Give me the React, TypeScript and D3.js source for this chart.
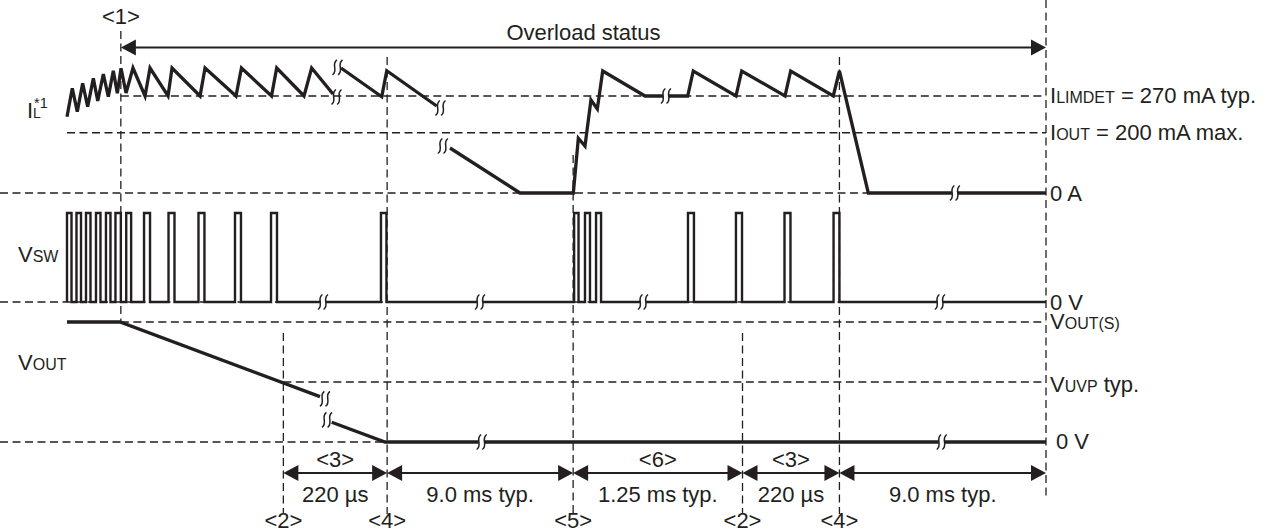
import React, { useEffect, useRef } from 'react';
import * as d3 from 'd3';

const WIDTH = 1272;
const HEIGHT = 529;
const INK = '#231f20';
const FONT = '"Liberation Sans", Arial, Helvetica, sans-serif';
const FS = 22;
const FS_SMALL = 16;

// schematic time axis: 0 = first switching pulse, 1000 = end of the overload window
const T_END = 1000;
const EVENT_TIMES = [55, 221, 327, 517, 690, 789];
const EVENT_LABELS = ['<1>', '<2>', '<4>', '<5>', '<2>', '<4>'];

// VSW pulses [rise, fall]
const SW_PULSES: [number, number][] = [
  [0, 4.6], [9.7, 14.3], [19.4, 24], [29.6, 34.2], [39.8, 44.4], [49.5, 55],
  [60.5, 65.5], [78.7, 84.8], [103.7, 109.8], [134.3, 140.4], [171.6, 177.7], [208.4, 214.5],
  [320.7, 326.3],
  [518, 522.5], [529.1, 534.2], [540.4, 545.5], [634.3, 640.4], [683.3, 689.5], [732.9, 739], [783, 789],
];
const SW_BREAKS = [261.5, 421.9, 588.4, 891.7];

// inductor current, arbitrary units (0 = 0 A, 77.6 = ILIMDET, 48.2 = IOUT max)
const IL_SEG_A: [number, number][] = [
  [0, 61], [5.4, 83.8], [10.5, 65], [16, 87.8], [21.1, 69], [26.9, 91.8], [31.4, 73.6],
  [37.1, 95.2], [42.2, 77], [47.3, 97.8], [51.4, 79.8], [55.2, 99.8], [60.3, 80], [67.4, 100],
  [79.7, 77.6], [84.8, 100], [103.2, 77.6], [107.3, 100], [135.9, 77.6], [141, 100],
  [172.6, 77.6], [178.2, 100], [208.9, 77.6], [214.2, 100], [242.1, 77.6], [249.9, 100], [271.7, 79.2],
];
const IL_SEG_B: [number, number][] = [[279.9, 100], [321.5, 77], [326.6, 97.8], [377.6, 69.6]];
const IL_SEG_C: [number, number][] = [
  [391.2, 36], [462.7, 0], [517.2, 0], [522.3, 43.8], [529.1, 37.6], [535.2, 74.4], [541.7, 67.2],
  [547.2, 97.6], [590.4, 77.6], [634, 77.6], [639.7, 97.6], [683.3, 77.6], [689.2, 97.6],
  [733.4, 77.6], [739.2, 97.6], [782.7, 77.6], [789, 97.6], [818.5, 0], [1000, 0],
];
const IL_SQUIGGLES: [number, number][] = [[276.3, 100.5], [275.3, 76.8], [381.5, 68], [384, 37.6]];
const IL_BREAKS: [number, number][] = [[611.8, 77.6], [907, 0]];

// output voltage, 1 = VOUT(S), 0.5 = VUVP
const VOUT_SEG_A: [number, number][] = [[0, 1], [54.1, 1], [258.4, 0.378]];
const VOUT_SEG_B: [number, number][] = [[270.4, 0.164], [324.8, 0], [1000, 0]];
const VOUT_SQUIGGLES: [number, number][] = [[263.5, 0.36], [265.6, 0.185]];
const VOUT_BREAKS = [423.6, 893.5];

// horizontal reference lines
const GUIDE_ROWS = ['il', 'il', 'il', 'sw', 'out', 'out', 'out'];
const GUIDE_VALUES = [77.6, 48.2, 0, 0, 1, 0.5, 0];
const GUIDE_STARTS: (number | null)[] = [55, 0, null, null, 55, 221, null];
const GUIDE_LABELS: [string, string][][] = [
  [['I', 'n'], ['LIMDET', 's'], [' = 270 mA typ.', 'n']],
  [['I', 'n'], ['OUT', 's'], [' = 200 mA max.', 'n']],
  [['0 A', 'n']],
  [['0 V', 'n']],
  [['V', 'n'], ['OUT(S)', 's']],
  [['V', 'n'], ['UVP', 's'], [' typ.', 'n']],
  [['0 V', 'n']],
];

// timing dimensions along the bottom
const SPAN_FROM = [221, 327, 517, 690, 789];
const SPAN_TO = [327, 517, 690, 789, 1000];
const SPAN_TOP = ['<3>', '', '<6>', '<3>', ''];
const SPAN_TEXT = ['220 \u00b5s', '9.0 ms typ.', '1.25 ms typ.', '220 \u00b5s', '9.0 ms typ.'];

const App: React.FC = () => {
  const ref = useRef<SVGSVGElement>(null);

  useEffect(() => {
    const svg = d3.select(ref.current);
    svg.selectAll('*').remove();

    const x = d3.scaleLinear().domain([0, T_END]).range([67, 1046]);
    const yIL = d3.scaleLinear().domain([0, 100]).range([193, 68]);
    const ySW = d3.scaleLinear().domain([0, 1]).range([302, 213]);
    const yOUT = d3.scaleLinear().domain([0, 1]).range([442, 322]);
    const rowScale: Record<string, d3.ScaleLinear<number, number>> = { il: yIL, sw: ySW, out: yOUT };

    // dashed guides
    const dashed = svg
      .append('g')
      .attr('stroke', INK)
      .attr('stroke-width', 1.3)
      .attr('stroke-dasharray', '8 4.5')
      .attr('fill', 'none');

    GUIDE_VALUES.forEach((v, i) => {
      const y = rowScale[GUIDE_ROWS[i]](v);
      const s = GUIDE_STARTS[i];
      dashed
        .append('line')
        .attr('x1', s === null ? 0 : x(s))
        .attr('x2', x(T_END))
        .attr('y1', y)
        .attr('y2', y);
    });

    // vertical event lines
    const vTops = [31, 333, 57, 155, 333, 57];
    EVENT_TIMES.forEach((t, i) => {
      dashed
        .append('line')
        .attr('x1', x(t))
        .attr('x2', x(t))
        .attr('y1', vTops[i])
        .attr('y2', i === 0 ? yOUT(1) : 514);
    });
    dashed.append('line').attr('x1', x(T_END)).attr('x2', x(T_END)).attr('y1', 0).attr('y2', 498);

    // waveforms
    const ilLine = d3.line<[number, number]>().x((d) => x(d[0])).y((d) => yIL(d[1]));
    const outLine = d3.line<[number, number]>().x((d) => x(d[0])).y((d) => yOUT(d[1]));

    const swPoints: [number, number][] = [[0, 0]];
    SW_PULSES.forEach(([a, b]) => {
      swPoints.push([a, 0], [a, 1], [b, 1], [b, 0]);
    });
    swPoints.push([T_END, 0]);
    const swLine = d3.line<[number, number]>().x((d) => x(d[0])).y((d) => ySW(d[1]));

    const waves = svg.append('g').attr('fill', 'none').attr('stroke', INK).attr('stroke-linejoin', 'miter');
    [IL_SEG_A, IL_SEG_B, IL_SEG_C].forEach((seg) => {
      waves.append('path').attr('d', ilLine(seg)).attr('stroke-width', 3.3);
    });
    waves.append('path').attr('d', swLine(swPoints)).attr('stroke-width', 2.4);
    [VOUT_SEG_A, VOUT_SEG_B].forEach((seg) => {
      waves.append('path').attr('d', outLine(seg)).attr('stroke-width', 3.3);
    });

    // break marks
    const squiggle = (cx: number, cy: number) =>
      [-2.8, 2.8]
        .map(
          (dx) =>
            `M${cx + dx + 2.2},${cy - 7.5}C${cx + dx - 4},${cy - 3} ${cx + dx + 4},${cy + 3} ${cx + dx - 2.2},${cy + 7.5}`
        )
        .join('');

    const breaks: [number, number][] = [
      ...IL_BREAKS.map(([t, v]) => [x(t), yIL(v)] as [number, number]),
      ...SW_BREAKS.map((t) => [x(t), ySW(0)] as [number, number]),
      ...VOUT_BREAKS.map((t) => [x(t), yOUT(0)] as [number, number]),
    ];
    const marks = svg.append('g');
    breaks.forEach(([bx, by]) => {
      marks.append('rect').attr('x', bx - 3).attr('y', by - 4).attr('width', 6).attr('height', 8).attr('fill', '#fff');
    });
    const squigglePts: [number, number][] = [
      ...breaks,
      ...IL_SQUIGGLES.map(([t, v]) => [x(t), yIL(v)] as [number, number]),
      ...VOUT_SQUIGGLES.map(([t, v]) => [x(t), yOUT(v)] as [number, number]),
    ];
    squigglePts.forEach(([bx, by]) => {
      marks
        .append('path')
        .attr('d', squiggle(bx, by))
        .attr('fill', 'none')
        .attr('stroke', INK)
        .attr('stroke-width', 1.5);
    });

    // arrows
    const arrowGroup = svg.append('g').attr('fill', INK).attr('stroke', INK);
    const head = (tip: number, y: number, dir: number) =>
      arrowGroup
        .append('path')
        .attr('stroke', 'none')
        .attr('d', `M${tip},${y}L${tip - dir * 15},${y - 8}L${tip - dir * 15},${y + 8}Z`);
    const dimension = (a: number, b: number, y: number, w: number) => {
      arrowGroup.append('line').attr('x1', a + 4).attr('x2', b - 4).attr('y1', y).attr('y2', y).attr('stroke-width', w);
      head(a, y, -1);
      head(b, y, 1);
    };

    dimension(x(EVENT_TIMES[0]), x(T_END), 47.5, 2);

    const text = (tx: number, ty: number, anchor = 'start', size = FS) =>
      svg
        .append('text')
        .attr('x', tx)
        .attr('y', ty)
        .attr('text-anchor', anchor)
        .attr('font-family', FONT)
        .attr('font-size', size)
        .attr('fill', INK);

    text((x(EVENT_TIMES[0]) + x(T_END)) / 2, 40, 'middle').text('Overload status');
    text(x(EVENT_TIMES[0]), 24, 'middle').text(EVENT_LABELS[0]);

    SPAN_FROM.forEach((a, i) => {
      const x0 = x(a);
      const x1 = x(SPAN_TO[i]);
      dimension(x0, x1, 473, 1.8);
      if (SPAN_TOP[i]) text((x0 + x1) / 2, 467, 'middle').text(SPAN_TOP[i]);
      text((x0 + x1) / 2, 502, 'middle').text(SPAN_TEXT[i]);
    });
    EVENT_TIMES.slice(1).forEach((t, i) => {
      text(x(t), 528, 'middle').text(EVENT_LABELS[i + 1]);
    });

    // right-hand level labels
    const labelDx = [4, 4, 4, 4, 4, 4, 10];
    const labelDy = [7, 7, 8, 8, 7, 10, 7];
    GUIDE_LABELS.forEach((parts, i) => {
      const y = rowScale[GUIDE_ROWS[i]](GUIDE_VALUES[i]);
      const t = text(x(T_END) + labelDx[i], y + labelDy[i]);
      parts.forEach(([s, kind]) => {
        t.append('tspan').attr('font-size', kind === 's' ? FS_SMALL : FS).text(s);
      });
    });

    // left-hand signal names
    text(27, 118).text('I');
    text(33, 118, 'start', 14).text('L');
    text(34, 108, 'start', 14.5).text('*1');
    const vsw = text(18, 262);
    vsw.append('tspan').text('V');
    vsw.append('tspan').attr('font-size', FS_SMALL).text('SW');
    const vout = text(18, 370);
    vout.append('tspan').text('V');
    vout.append('tspan').attr('font-size', FS_SMALL).text('OUT');
  }, []);

  return (
    <svg
      ref={ref}
      width={WIDTH}
      height={HEIGHT}
      style={{ position: 'absolute', left: 0, top: 0, background: '#fff' }}
    />
  );
};

export default App;
